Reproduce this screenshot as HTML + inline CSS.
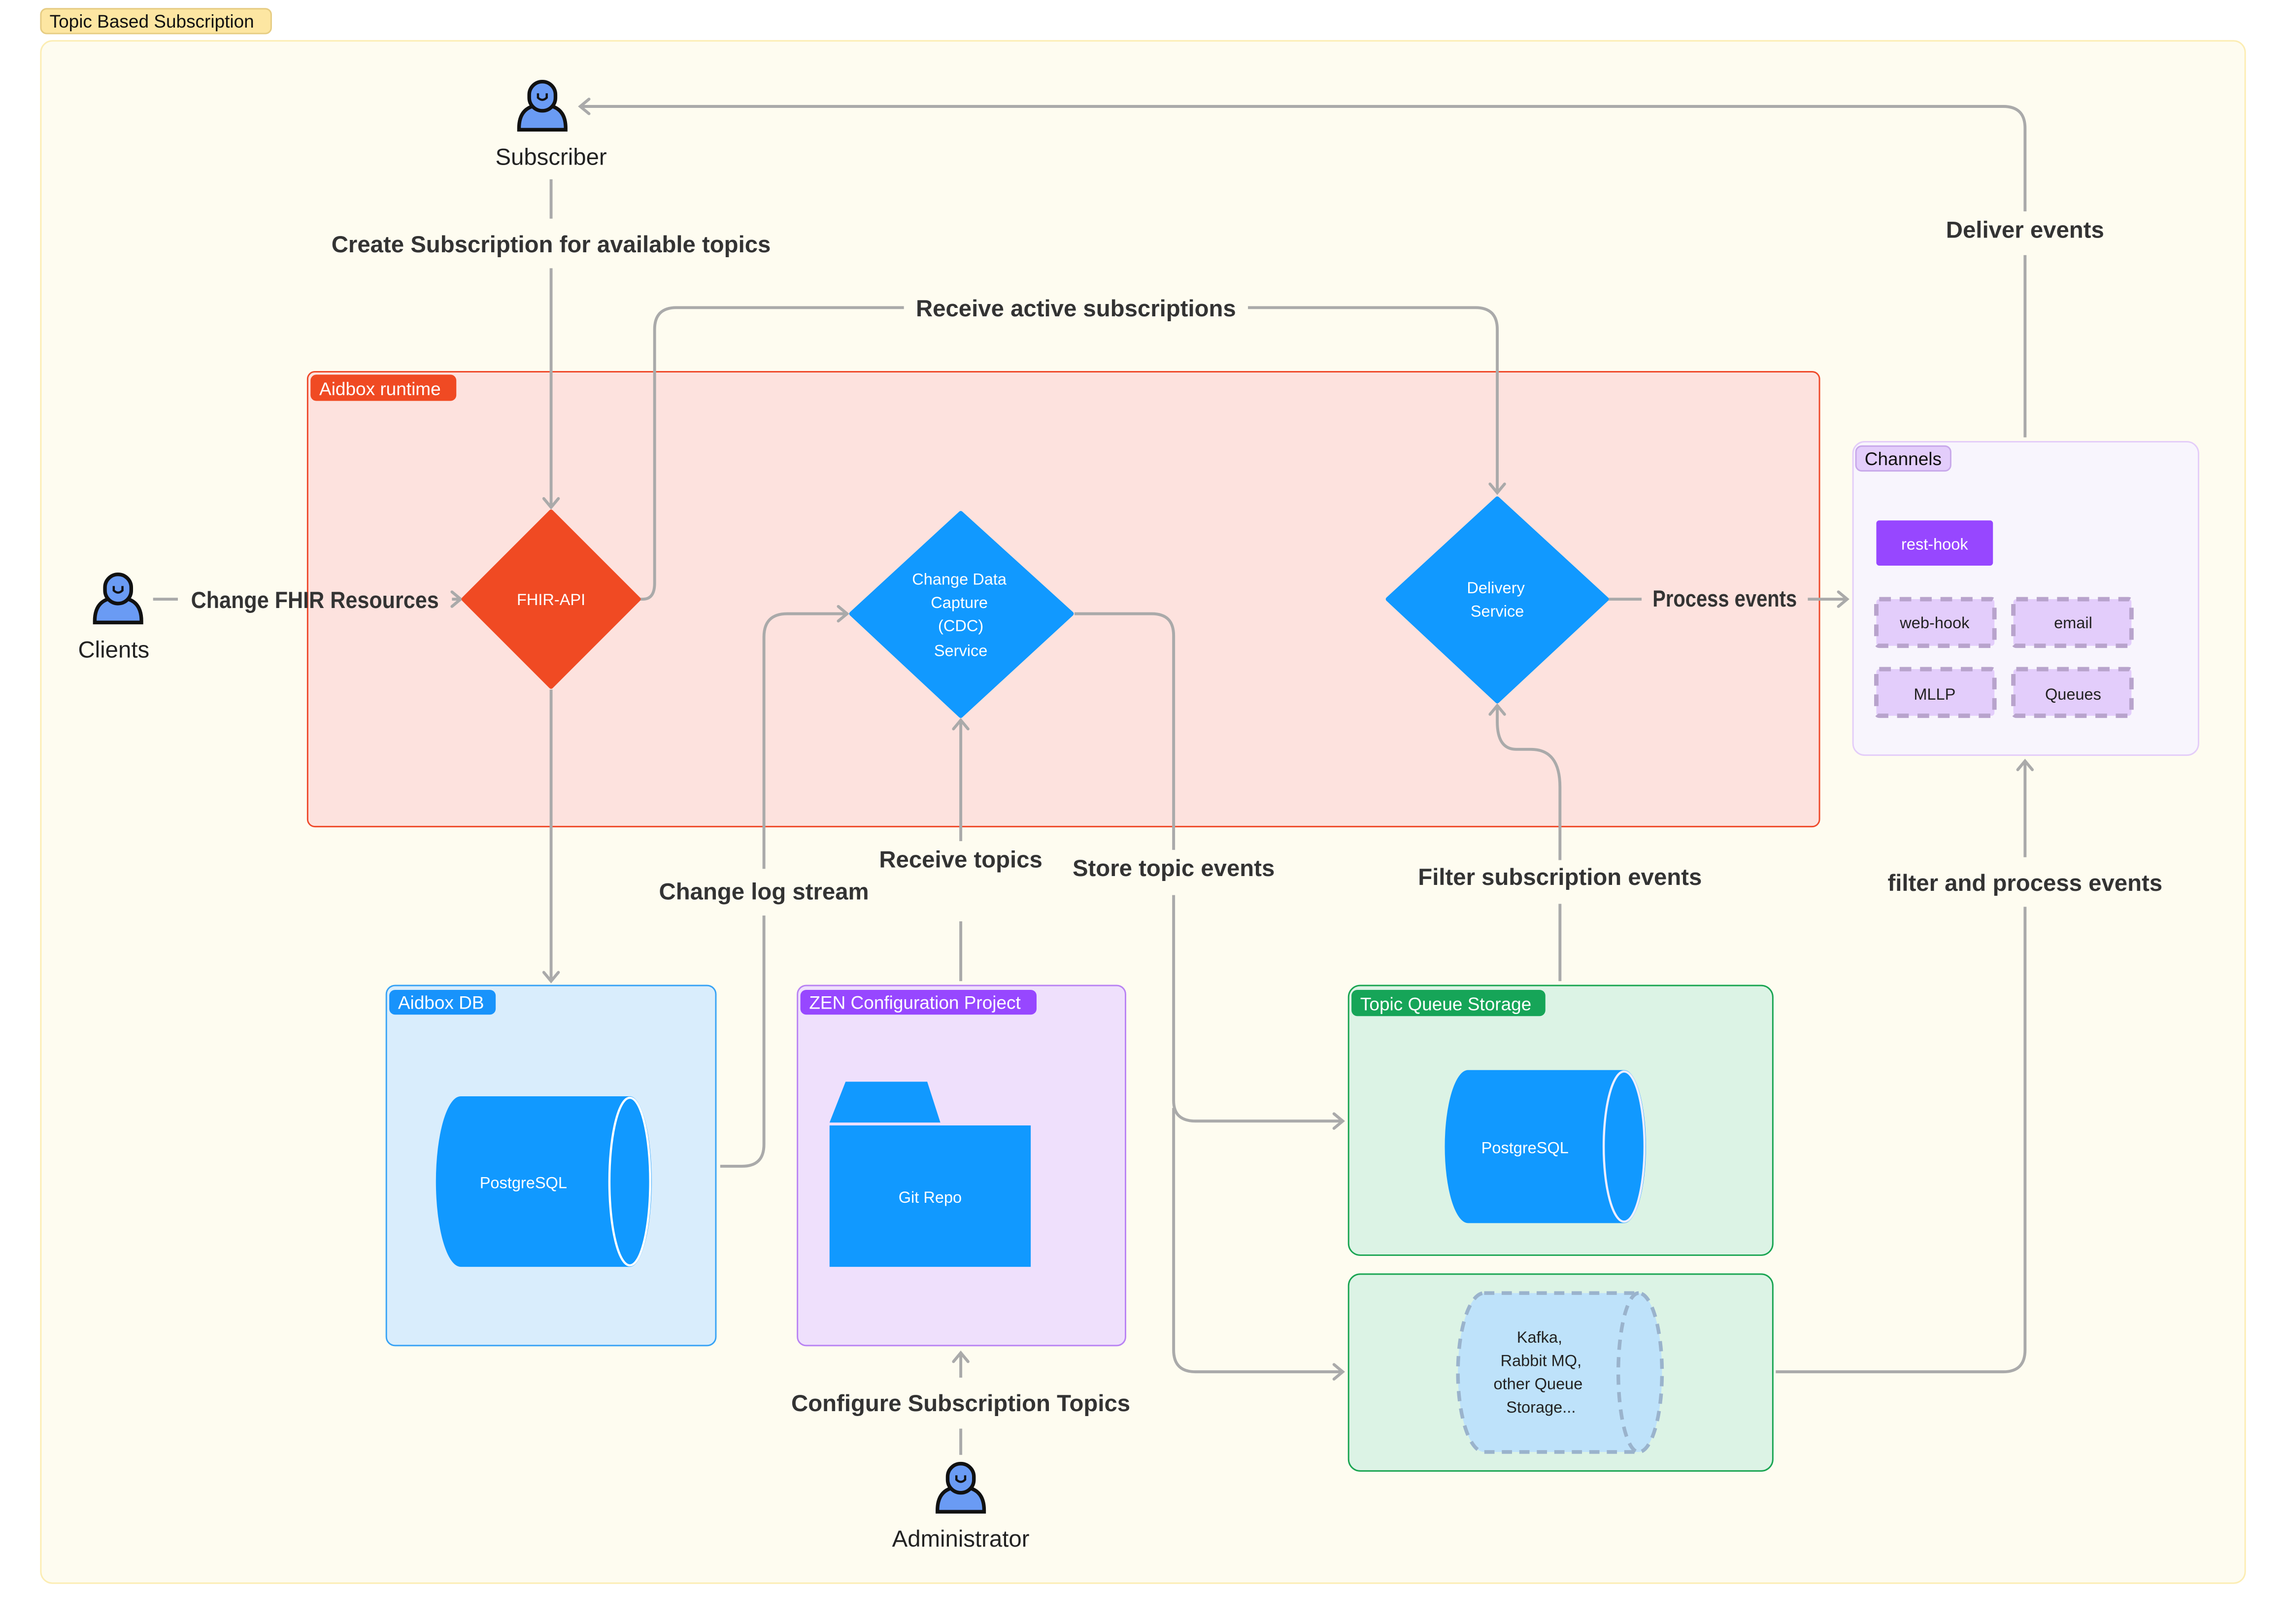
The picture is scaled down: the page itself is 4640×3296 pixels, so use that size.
<!DOCTYPE html>
<html><head><meta charset="utf-8"><style>html,body{margin:0;padding:0;background:#fff}svg{display:block}</style></head><body>
<svg width="4640" height="3296" viewBox="0 0 1568 1114" preserveAspectRatio="none" xmlns="http://www.w3.org/2000/svg" font-family="Liberation Sans, sans-serif">
<defs>
<marker id="a" viewBox="0 0 12 12" refX="10" refY="6" markerWidth="12" markerHeight="12" markerUnits="userSpaceOnUse" orient="auto"><path d="M4,1 L10,6 L4,11" fill="none" stroke="#aaa" stroke-width="2" stroke-linecap="round"/></marker>
</defs>
<rect width="1568" height="1114" fill="#fff"/>
<rect x="28" y="6" width="158" height="17" rx="4" fill="#fde6a2" stroke="#e6cc82"/>
<text x="34" y="19" font-size="12.5" fill="#111">Topic Based Subscription</text>
<rect x="28" y="28" width="1512" height="1058" rx="8" fill="#fefcf0" stroke="#fcedb3"/>
<rect x="211" y="255" width="1037" height="312" rx="5" fill="#fde2de" stroke="#ef4a2b"/>
<rect x="213" y="257" width="100" height="18" rx="4" fill="#f04a23"/>
<text x="219" y="271" font-size="12.5" fill="#fff">Aidbox runtime</text>
<g fill="none" stroke="#aaa" stroke-width="2">
<path d="M378,123 V150"/>
<path d="M378,184 V348" marker-end="url(#a)"/>
<path d="M105,411 H122"/>
<path d="M310,411 H316" marker-end="url(#a)"/>
<path d="M438,411 H441 Q449,411 449,400 V226 Q449,211 464,211 H620"/>
<path d="M856,211 H1012 Q1027,211 1027,226 V338" marker-end="url(#a)"/>
<path d="M1102,411 H1126"/>
<path d="M1240,411 H1267" marker-end="url(#a)"/>
<path d="M1389,300 V175"/>
<path d="M1389,145 V88 Q1389,73 1374,73 H398" marker-end="url(#a)"/>
<path d="M378,473 V673" marker-end="url(#a)"/>
<path d="M494,800 H509 Q524,800 524,785 V628"/>
<path d="M524,596 V437 Q524,421 540,421 H581" marker-end="url(#a)"/>
<path d="M659,673 V632"/>
<path d="M659,577 V494" marker-end="url(#a)"/>
<path d="M659,998 V980"/>
<path d="M659,945 V928" marker-end="url(#a)"/>
<path d="M737,421 H790 Q805,421 805,436 V583"/>
<path d="M805,614 V755 Q805,769 820,769 H921" marker-end="url(#a)"/>
<path d="M805,760 V926 Q805,941 820,941 H921" marker-end="url(#a)"/>
<path d="M1070,673 V620"/>
<path d="M1070,590 V540 Q1070,514 1050,514 H1040 Q1027,514 1027,495 V484" marker-end="url(#a)"/>
<path d="M1218,941 H1374 Q1389,941 1389,926 V622"/>
<path d="M1389,588 V522" marker-end="url(#a)"/>
</g>
<g font-size="16" font-weight="bold" fill="#333" text-anchor="middle">
<text x="378" y="173">Create Subscription for available topics</text>
<text x="216" y="417" textLength="170" lengthAdjust="spacingAndGlyphs">Change FHIR Resources</text>
<text x="738" y="217">Receive active subscriptions</text>
<text x="1183" y="416" textLength="99" lengthAdjust="spacingAndGlyphs">Process events</text>
<text x="1389" y="163">Deliver events</text>
<text x="524" y="617">Change log stream</text>
<text x="659" y="595">Receive topics</text>
<text x="805" y="601">Store topic events</text>
<text x="1070" y="607">Filter subscription events</text>
<text x="1389" y="611">filter and process events</text>
<text x="659" y="968">Configure Subscription Topics</text>
</g>
<g stroke="#111" stroke-width="2.5" fill="#6a9bf4">
<path d="M356,88 Q356,72 372,72 Q388,72 388,88 V89 H356 Z"/><rect x="363" y="56" width="18" height="20" rx="9"/>
<path d="M65,426 Q65,410 81,410 Q97,410 97,426 V427 H65 Z"/><rect x="72" y="394" width="18" height="20" rx="9"/>
<path d="M643,1036 Q643,1020 659,1020 Q675,1020 675,1036 V1037 H643 Z"/><rect x="650" y="1004" width="18" height="20" rx="9"/>
</g>
<g fill="none" stroke="#111" stroke-width="1.5"><path d="M369,64 V67 Q372,70 375,67 V64"/><path d="M78,402 V405 Q81,408 84,405 V402"/><path d="M656,1012 V1015 Q659,1018 662,1015 V1012"/></g>
<g font-size="16" fill="#222" text-anchor="middle">
<text x="378" y="113">Subscriber</text><text x="78" y="451">Clients</text><text x="659" y="1061">Administrator</text>
</g>
<path d="M378,351 L438,411 L378,471 L318,411 Z" fill="#f04a23" stroke="#f04a23" stroke-width="3" stroke-linejoin="round"/>
<text x="378" y="415" font-size="11" fill="#fff" text-anchor="middle">FHIR-API</text>
<path d="M659,352 L735,421 L659,491 L584,421 Z" fill="#1199ff" stroke="#1199ff" stroke-width="3" stroke-linejoin="round"/>
<g font-size="11" fill="#fff" text-anchor="middle"><text x="658" y="401">Change Data</text><text x="658" y="417">Capture</text><text x="659" y="433">(CDC)</text><text x="659" y="450">Service</text></g>
<path d="M1027,342 L1102,411 L1027,481 L952,411 Z" fill="#1199ff" stroke="#1199ff" stroke-width="3" stroke-linejoin="round"/>
<g font-size="11" fill="#fff" text-anchor="middle"><text x="1026" y="407">Delivery</text><text x="1027" y="423">Service</text></g>
<rect x="1271" y="303" width="237" height="215" rx="8" fill="#f8f5fd" stroke="#e4cdf9"/>
<rect x="1273" y="306" width="65" height="17" rx="4" fill="#e3cdfb" stroke="#c8a8ea"/>
<text x="1279" y="319" font-size="12.5" fill="#111">Channels</text>
<rect x="1287" y="357" width="80" height="31" rx="2" fill="#9747ff"/>
<text x="1327" y="377" font-size="11" fill="#fff" text-anchor="middle">rest-hook</text>
<g fill="#e3cdfb" stroke="#b8a3cc" stroke-width="3" stroke-dasharray="8,6">
<rect x="1287" y="411" width="81" height="32" rx="2"/><rect x="1381" y="411" width="81" height="32" rx="2"/>
<rect x="1287" y="459" width="81" height="32" rx="2"/><rect x="1381" y="459" width="81" height="32" rx="2"/>
</g>
<g font-size="11" fill="#222" text-anchor="middle"><text x="1327" y="431">web-hook</text><text x="1422" y="431">email</text><text x="1327" y="480">MLLP</text><text x="1422" y="480">Queues</text></g>
<rect x="265" y="676" width="226" height="247" rx="6" fill="#d9edfc" stroke="#38a3f5"/>
<rect x="267" y="679" width="73" height="17" rx="4" fill="#1893fb"/>
<text x="273" y="692" font-size="12.5" fill="#fff">Aidbox DB</text>
<path d="M316,752 H432 A15,58.5 0 0 1 432,869 H316 A17,58.5 0 0 1 316,752 Z" fill="#1199ff"/>
<ellipse cx="432" cy="810.5" rx="14" ry="57.5" fill="#1199ff" stroke="#fff" stroke-width="1.5"/>
<text x="359" y="815" font-size="11" fill="#fff" text-anchor="middle">PostgreSQL</text>
<rect x="547" y="676" width="225" height="247" rx="6" fill="#efe0fc" stroke="#b983f3"/>
<rect x="549" y="679" width="162" height="17" rx="4" fill="#9747ff"/>
<text x="555" y="692" font-size="12.5" fill="#fff">ZEN Configuration Project</text>
<path d="M569,770 L580,742 H636 L645,770 Z" fill="#1199ff"/>
<rect x="569" y="772" width="138" height="97" fill="#1199ff"/>
<text x="638" y="825" font-size="11" fill="#fff" text-anchor="middle">Git Repo</text>
<rect x="925" y="676" width="291" height="185" rx="8" fill="#dcf3e5" stroke="#1aa552"/>
<rect x="927" y="679" width="133" height="18" rx="4" fill="#16a558"/>
<text x="933" y="693" font-size="12.5" fill="#fff">Topic Queue Storage</text>
<path d="M1007,734 H1114 A15,52.5 0 0 1 1114,839 H1007 A16,52.5 0 0 1 1007,734 Z" fill="#1199ff"/>
<ellipse cx="1114" cy="786.5" rx="14" ry="51.5" fill="#1199ff" stroke="#eef" stroke-width="1.5"/>
<text x="1046" y="791" font-size="11" fill="#fff" text-anchor="middle">PostgreSQL</text>
<rect x="925" y="874" width="291" height="135" rx="8" fill="#dcf3e5" stroke="#1aa552"/>
<path d="M1018,887 H1124 A16,54.5 0 0 1 1124,996 H1018 A18,54.5 0 0 1 1018,887 Z" fill="#bee2fa" stroke="#9ab3cc" stroke-width="2.5" stroke-dasharray="7,5"/>
<path d="M1124,887 A14,54.5 0 0 0 1124,996" fill="none" stroke="#9ab3cc" stroke-width="2.5" stroke-dasharray="7,5"/>
<g font-size="11" fill="#222" text-anchor="middle"><text x="1056" y="921">Kafka,</text><text x="1057" y="937">Rabbit MQ,</text><text x="1055" y="953">other Queue</text><text x="1057" y="969">Storage...</text></g>
</svg>
</body></html>
